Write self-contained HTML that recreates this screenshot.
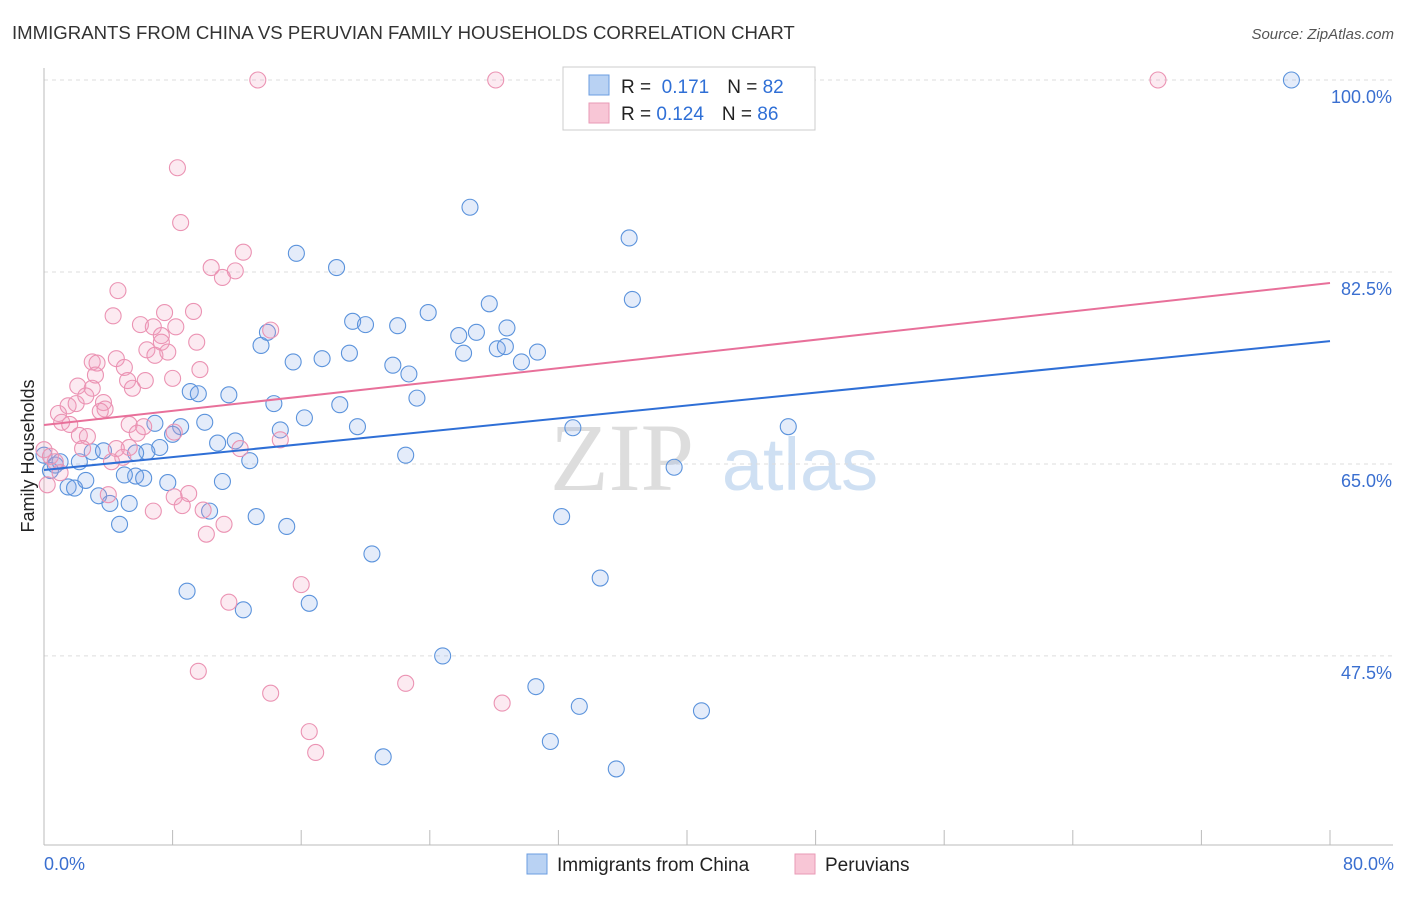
<!DOCTYPE html>
<html><head><meta charset="utf-8"><style>
body{margin:0;background:#fff;font-family:"Liberation Sans",sans-serif}
svg text{font-family:"Liberation Sans",sans-serif}
</style></head><body>
<svg width="1406" height="892" viewBox="0 0 1406 892" xmlns="http://www.w3.org/2000/svg">
<text x="12" y="39" font-size="18.6" fill="#333">IMMIGRANTS FROM CHINA VS PERUVIAN FAMILY HOUSEHOLDS CORRELATION CHART</text>
<text x="1394" y="39" font-size="15" fill="#555" font-style="italic" text-anchor="end">Source: ZipAtlas.com</text>
<g>
<text x="622" y="490" font-size="96" fill="#ddd" text-anchor="middle" font-family="Liberation Serif" style="font-family:'Liberation Serif',serif">ZIP</text>
<text x="800" y="490" font-size="74" fill="#cfe0f3" text-anchor="middle">atlas</text>
</g>
<g id="grid"></g>
<g id="axes"></g>
<g id="pts"></g>
<g id="lines"></g>
<text transform="translate(34,456) rotate(-90)" font-size="18" fill="#222" text-anchor="middle">Family Households</text>
<text x="44" y="870" font-size="18" fill="#3a6fd0">0.0%</text>
<text x="1394" y="870" font-size="18" fill="#3a6fd0" text-anchor="end">80.0%</text>
<g>
<rect x="563" y="67" width="252" height="63" fill="#fff" stroke="#ccc"/>
<rect x="589" y="75" width="20" height="20" fill="#b9d2f3" stroke="#6b9de0"/>
<rect x="589" y="103" width="20" height="20" fill="#f8c6d6" stroke="#e99ab6"/>
<text x="621" y="93" font-size="19" fill="#222">R = <tspan fill="#2f6fd6">&#160;0.171</tspan><tspan dx="18">N = </tspan><tspan fill="#2f6fd6">82</tspan></text>
<text x="621" y="120" font-size="19" fill="#222">R = <tspan fill="#2f6fd6">0.124</tspan><tspan dx="18">N = </tspan><tspan fill="#2f6fd6">86</tspan></text>
</g>
<g>
<rect x="527" y="854" width="20" height="20" fill="#b9d2f3" stroke="#6b9de0"/>
<text x="557" y="871" font-size="19" fill="#222">Immigrants from China</text>
<rect x="795" y="854" width="20" height="20" fill="#f8c6d6" stroke="#e99ab6"/>
<text x="825" y="871" font-size="19" fill="#222">Peruvians</text>
</g>
</svg>
<script>
const yTicks=[100,82.5,65,47.5];
const yTickLabels=["100.0%","82.5%","65.0%","47.5%"];
const xTicks=[0,8,16,24,32,40,48,56,64,72,80];
const chinaX=[15.7,18.2,26.5,36.4,36.6,27.7,23.9,19.2,20.0,22.0,25.8,26.9,28.8,28.2,28.7,30.7,26.1,29.7,19.0,17.3,15.5,13.5,13.9,21.7,22.7,23.2,18.4,16.2,14.3,14.7,19.5,9.1,9.6,11.5,10.0,8.5,8.0,6.9,7.2,6.4,5.7,5.7,7.7,10.8,11.9,12.8,11.1,22.5,32.9,39.2,46.3,32.2,13.2,15.1,20.4,34.6,8.9,12.4,16.5,24.8,30.6,33.3,40.9,31.5,21.1,35.6,77.6,0,0.4,0.7,1.0,1.5,1.9,2.2,2.6,3.0,3.4,3.7,4.1,4.7,5.0,5.3,6.2,10.3];
const chinaY=[84.2,82.9,88.4,85.6,80.0,79.6,78.8,78.0,77.7,77.6,76.7,77.0,77.4,75.5,75.7,75.2,75.1,74.3,75.1,74.6,74.3,75.8,77.0,74.0,73.2,71.0,70.4,69.2,70.5,68.1,68.4,71.6,71.4,71.3,68.8,68.4,67.7,68.7,66.5,66.1,66.0,63.9,63.3,66.9,67.1,65.3,63.4,65.8,68.3,64.7,68.4,60.2,60.2,59.3,56.8,54.6,53.4,51.7,52.3,47.5,44.7,42.9,42.5,39.7,38.3,37.2,100,65.8,64.4,64.9,65.2,62.9,62.8,65.2,63.5,66.1,62.1,66.2,61.4,59.5,64.0,61.4,63.7,60.7];
const peruX=[13.3,28.1,69.3,8.3,8.5,12.4,10.4,11.9,11.1,4.6,7.5,9.3,4.3,6.0,6.8,8.2,7.3,7.3,9.5,6.4,6.9,7.7,3.0,3.3,4.5,5.0,3.2,5.2,5.5,2.1,3.0,6.3,8.0,9.7,1.5,2.0,3.7,3.8,2.6,3.5,0.9,1.1,1.6,2.2,2.7,5.3,6.2,5.8,8.1,5.3,4.5,4.2,4.9,2.4,0,0.4,0.7,1.0,0.2,12.2,14.7,14.1,8.1,9.0,8.6,9.9,6.8,11.2,10.1,4.0,16.0,11.5,9.6,14.1,22.5,28.5,16.5,16.9];
const peruY=[100,100,100,92.0,87.0,84.3,82.9,82.6,82.0,80.8,78.8,78.9,78.5,77.7,77.5,77.5,76.7,76.1,76.1,75.4,74.9,75.2,74.3,74.2,74.6,73.8,73.1,72.6,71.9,72.1,71.9,72.6,72.8,73.6,70.3,70.5,70.6,70.0,71.2,69.8,69.6,68.8,68.6,67.6,67.5,68.6,68.4,67.8,67.9,66.5,66.4,65.2,65.6,66.4,66.3,65.7,65.2,64.2,63.1,66.4,67.2,77.2,62.0,62.3,61.2,60.8,60.7,59.5,58.6,62.2,54.0,52.4,46.1,44.1,45.0,43.2,40.6,38.7];
const chinaTrend=[64.45,76.2];
const peruTrend=[68.55,81.5];
const NS="http://www.w3.org/2000/svg";
const xs=v=>44+(v/80)*1286;
const ys=v=>80+(100-v)*10.97;
function mk(t,a,p){const e=document.createElementNS(NS,t);for(const k in a)e.setAttribute(k,a[k]);p.appendChild(e);return e;}
const grid=document.getElementById('grid'),axes=document.getElementById('axes'),pts=document.getElementById('pts'),lines=document.getElementById('lines');
yTicks.forEach((t,i)=>{
 const l=mk('line',{x1:44,x2:1393,y1:ys(t),y2:ys(t),stroke:'#ddd','stroke-dasharray':'4,4'},grid);
 
 
 const tx=mk('text',{x:1392,y:ys(t)+23,'font-size':18,fill:'#3a6fd0','text-anchor':'end'},axes);
 tx.textContent=yTickLabels[i];
 
 
});
const ya=mk('line',{x1:44,x2:44,y1:68,y2:845,stroke:'#bbb'},axes);


const xa=mk('line',{x1:44,x2:1393,y1:845,y2:845,stroke:'#bbb'},axes);


xTicks.forEach(t=>{
 const l=mk('line',{x1:xs(t),x2:xs(t),y1:830,y2:845,stroke:'#bbb'},axes);
 
 
});
function series(X,Y,fill,stroke,name){
 X.forEach((x,i)=>{
  const c=mk('circle',{cx:xs(x),cy:ys(Y[i]),r:8,fill:fill,stroke:stroke,'stroke-width':1.1},pts);
  
  
 });
}
series(chinaX,chinaY,'rgba(130,170,230,0.22)','#5b93dc','china-point');
series(peruX,peruY,'rgba(240,160,190,0.22)','#eb93b3','peruvian-point');
const lb=mk('line',{x1:xs(0),y1:ys(chinaTrend[0]),x2:xs(80),y2:ys(chinaTrend[1]),stroke:'#2f6fd6','stroke-width':2},lines);


const lp=mk('line',{x1:xs(0),y1:ys(peruTrend[0]),x2:xs(80),y2:ys(peruTrend[1]),stroke:'#e8709a','stroke-width':2},lines);


</script>
</body></html>
